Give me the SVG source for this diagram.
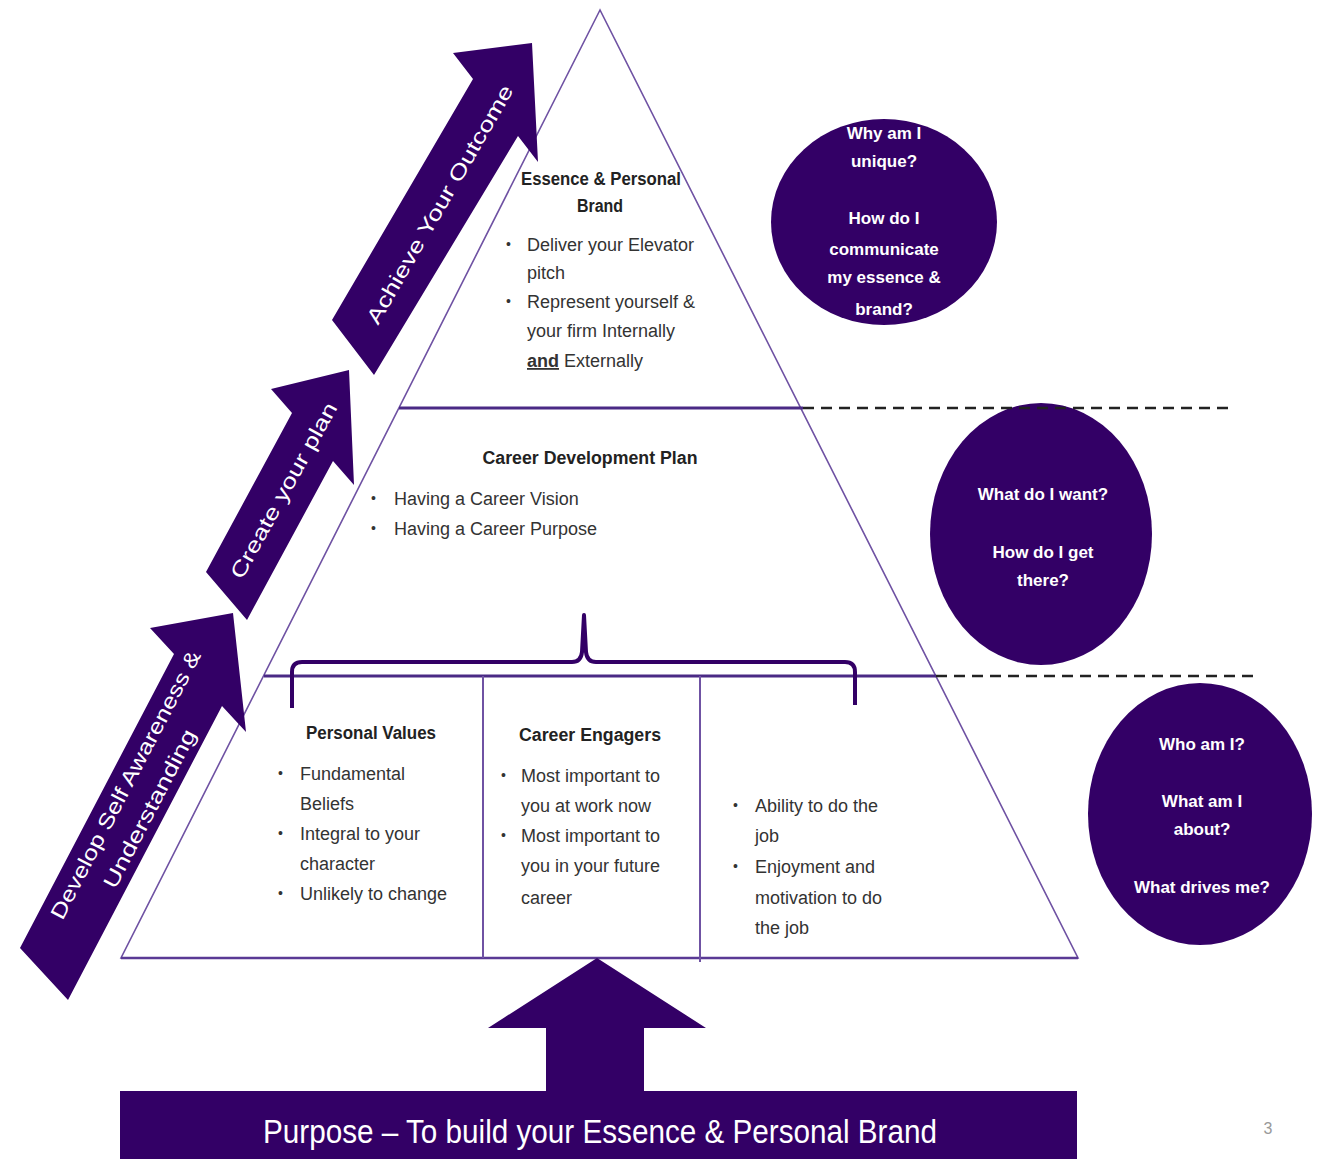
<svg xmlns="http://www.w3.org/2000/svg" width="1321" height="1159" viewBox="0 0 1321 1159">
<style>
  .fill { fill: #330066; }
  .tri { fill: none; stroke: #6f52a3; stroke-width: 1.6; }
  .sep { stroke: #4a2a85; stroke-width: 3; }
  .div { stroke: #6f52a3; stroke-width: 2; }
  .dash { stroke: #222; stroke-width: 2.5; stroke-dasharray: 11 7; }
  .brace { fill: none; stroke: #330066; stroke-width: 4; stroke-linejoin: round; }
  .t { font-family: "Liberation Sans", Arial, sans-serif; font-size: 18px; fill: #333; }
  .h { font-family: "Liberation Sans", Arial, sans-serif; font-size: 18px; font-weight: bold; fill: #222; text-anchor: middle; }
  .c { font-family: "Liberation Sans", Arial, sans-serif; font-size: 17px; font-weight: bold; fill: #fff; text-anchor: middle; }
  .a { font-family: "Liberation Sans", Arial, sans-serif; font-size: 21px; fill: #fff; text-anchor: middle; }
  .b { font-family: "Liberation Sans", Arial, sans-serif; font-size: 14px; fill: #333; }
</style>
<rect width="1321" height="1159" fill="#fff"/>

<g id="pyramid">
  <polygon class="tri" points="600,10 121,958 1078,958"/>
  <line class="sep" x1="399" y1="408" x2="803" y2="408"/>
  <line class="sep" x1="264" y1="676" x2="936" y2="676"/>
  <line class="sep" x1="121" y1="958" x2="1078" y2="958" style="stroke-width:2.5;stroke:#5a3a95"/>
  <line class="div" x1="483" y1="676" x2="483" y2="958"/>
  <line class="div" x1="700" y1="676" x2="700" y2="962"/>
</g>

<g id="arrow-develop">
  <polygon class="fill" points="20,948 174,654 150,628 233,613 246,732 222,706 68,1000"/>
  <text class="a" transform="translate(132,788) rotate(-62.4)" textLength="300" lengthAdjust="spacingAndGlyphs">Develop Self Awareness &amp;</text>
  <text class="a" transform="translate(156,812) rotate(-62.4)" textLength="176" lengthAdjust="spacingAndGlyphs">Understanding</text>
</g>

<g id="arrow-create">
  <polygon class="fill" points="206,572 292,413 271,389 349,370 354,485 333,461 247,620"/>
  <text class="a" transform="translate(290,494) rotate(-61)" textLength="198" lengthAdjust="spacingAndGlyphs">Create your plan</text>
</g>

<g id="arrow-achieve">
  <polygon class="fill" points="332,320 473,79 453,53 532,43 538,162 518,136 374,375"/>
  <text class="a" transform="translate(446,208) rotate(-60)" textLength="272" lengthAdjust="spacingAndGlyphs">Achieve Your Outcome</text>
</g>

<g id="tier-top">
  <text class="h" x="601" y="185" textLength="160" lengthAdjust="spacingAndGlyphs">Essence &amp; Personal</text>
  <text class="h" x="600" y="212" textLength="46" lengthAdjust="spacingAndGlyphs">Brand</text>
  <text class="b" x="506" y="249">•</text>
  <text class="t" x="527" y="251">Deliver your Elevator</text>
  <text class="t" x="527" y="279">pitch</text>
  <text class="b" x="506" y="306">•</text>
  <text class="t" x="527" y="308">Represent yourself &amp;</text>
  <text class="t" x="527" y="337">your firm Internally</text>
  <text class="t" x="527" y="367"><tspan font-weight="bold" text-decoration="underline">and</tspan> Externally</text>
</g>

<g id="tier-middle">
  <text class="h" x="590" y="464" textLength="215" lengthAdjust="spacingAndGlyphs">Career Development Plan</text>
  <text class="b" x="371" y="503">•</text>
  <text class="t" x="394" y="505">Having a Career Vision</text>
  <text class="b" x="371" y="533">•</text>
  <text class="t" x="394" y="535">Having a Career Purpose</text>
</g>

<g id="personal-values">
  <text class="h" x="371" y="739" textLength="130" lengthAdjust="spacingAndGlyphs">Personal Values</text>
  <text class="b" x="278" y="778">•</text>
  <text class="t" x="300" y="780">Fundamental</text>
  <text class="t" x="300" y="810">Beliefs</text>
  <text class="b" x="278" y="838">•</text>
  <text class="t" x="300" y="840">Integral to your</text>
  <text class="t" x="300" y="870">character</text>
  <text class="b" x="278" y="898">•</text>
  <text class="t" x="300" y="900">Unlikely to change</text>
</g>

<g id="career-engagers">
  <text class="h" x="590" y="741" textLength="142" lengthAdjust="spacingAndGlyphs">Career Engagers</text>
  <text class="b" x="501" y="780">•</text>
  <text class="t" x="521" y="782">Most important to</text>
  <text class="t" x="521" y="812">you at work now</text>
  <text class="b" x="501" y="840">•</text>
  <text class="t" x="521" y="842">Most important to</text>
  <text class="t" x="521" y="872">you in your future</text>
  <text class="t" x="521" y="904">career</text>
</g>

<g id="abilities">
  <text class="b" x="733" y="810">•</text>
  <text class="t" x="755" y="812">Ability to do the</text>
  <text class="t" x="755" y="842">job</text>
  <text class="b" x="733" y="871">•</text>
  <text class="t" x="755" y="873">Enjoyment and</text>
  <text class="t" x="755" y="904">motivation to do</text>
  <text class="t" x="755" y="934">the job</text>
</g>

<g id="circle-top">
  <ellipse class="fill" cx="884" cy="222" rx="113" ry="103"/>
  <text class="c" x="884" y="139">Why am I</text>
  <text class="c" x="884" y="167">unique?</text>
  <text class="c" x="884" y="224">How do I</text>
  <text class="c" x="884" y="255">communicate</text>
  <text class="c" x="884" y="283">my essence &amp;</text>
  <text class="c" x="884" y="315">brand?</text>
</g>

<g id="circle-middle">
  <ellipse class="fill" cx="1041" cy="534" rx="111" ry="131"/>
  <text class="c" x="1043" y="500">What do I want?</text>
  <text class="c" x="1043" y="558">How do I get</text>
  <text class="c" x="1043" y="586">there?</text>
</g>

<g id="circle-bottom">
  <ellipse class="fill" cx="1200" cy="814" rx="112" ry="131"/>
  <text class="c" x="1202" y="750">Who am I?</text>
  <text class="c" x="1202" y="807">What am I</text>
  <text class="c" x="1202" y="835">about?</text>
  <text class="c" x="1202" y="893">What drives me?</text>
</g>

<g id="connectors">
  <line class="dash" x1="803" y1="408" x2="1235" y2="408"/>
  <line class="dash" x1="936" y1="676" x2="1253" y2="676"/>
  <path class="brace" d="M292,708 L292,672 Q292,662 302,662 L572,662 Q581,662 582,652 L584,615 L586,652 Q587,662 596,662 L845,662 Q855,662 855,672 L855,705"/>
</g>

<g id="purpose">
  <polygon class="fill" points="597,958 706,1028 644,1028 644,1092 546,1092 546,1028 488,1028"/>
  <rect class="fill" x="120" y="1091" width="957" height="68"/>
  <text x="600" y="1143" text-anchor="middle" font-family="'Liberation Sans', Arial, sans-serif" font-size="34" fill="#fff" textLength="674" lengthAdjust="spacingAndGlyphs">Purpose – To build your Essence &amp; Personal Brand</text>
</g>

<text x="1268" y="1134" text-anchor="middle" font-family="'Liberation Sans', Arial, sans-serif" font-size="16" fill="#999">3</text>
</svg>
